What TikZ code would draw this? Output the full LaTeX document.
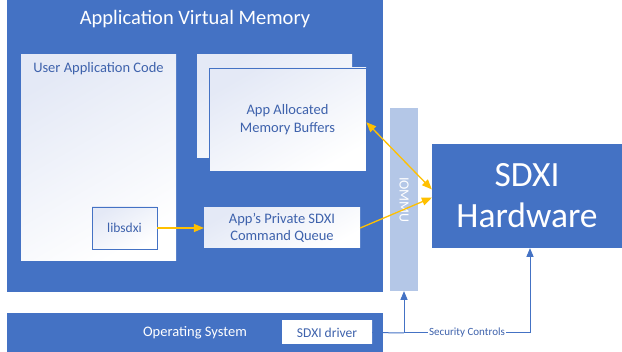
\documentclass[tikz,border=0pt]{standalone}
\usepackage{fontspec}
\setmainfont{Carlito}
\usetikzlibrary{arrows}
\definecolor{sd_blue}{RGB}{68, 114, 196}
\definecolor{sd_light}{RGB}{180, 199, 231}
\definecolor{sd_orange}{RGB}{255, 192, 0}
\definecolor{sd_tint}{RGB}{228, 233, 246}
\definecolor{sd_text}{RGB}{62, 98, 172}
\tikzstyle{bb}=[rectangle,fill=sd_blue,draw=none,inner sep=0pt,text=white]
\tikzstyle{wb}=[rectangle,top color=sd_tint,bottom color=white,shading angle=30,
  draw=none,inner sep=0pt,text=sd_text,align=center,
  font=\fontsize{14.5}{17.5}\selectfont]
\tikzstyle{ob}=[wb,draw=sd_blue,line width=0.8pt]
\tikzstyle{io}=[rectangle,fill=sd_light,draw=none,inner sep=0pt,text=white]
\tikzstyle{ya}=[draw=sd_orange,line width=1.3pt,-triangle 45]
\tikzstyle{ba}=[draw=sd_blue,line width=1pt]
\tikzstyle{none}=[]

\begin{document}
\begin{tikzpicture}[x=1pt,y=-1pt]
            \useasboundingbox (0, 0) rectangle (622, 352);
            \node [style=bb, minimum width=376, minimum height=292] (0) at (195, 146) {};
            \node [style=none, text=white, font=\fontsize{20.5}{24}\selectfont] (1) at (195, 19) {Application Virtual Memory};
            \node [style=wb, minimum width=155, minimum height=206,
              label={[text=sd_text, font=\fontsize{14.5}{17}\selectfont, anchor=north, yshift=-4pt]north:User Application Code}] (2) at (98.5, 158) {};
            \node [style=wb, minimum width=155, minimum height=103] (3) at (274.5, 106.5) {};
            \node [style=ob, minimum width=157, minimum height=103] (4) at (287.5, 119.5) {App Allocated\\Memory Buffers};
            \node [style=ob, fill=white, minimum width=65, minimum height=42,
              font=\fontsize{13.5}{16}\selectfont] (5) at (124.5, 228) {libsdxi};
            \node [style=wb, minimum width=156, minimum height=40] (6) at (282, 228) {App’s Private SDXI\\Command Queue};
            \node [style=io, minimum width=28, minimum height=183] (7) at (404, 199.5) {};
            \node [style=none, text=white, rotate=-90, font=\fontsize{14}{16}\selectfont] (8) at (404, 200) {IOMMU};
            \node [style=bb, minimum width=190, minimum height=104, align=center,
              font=\fontsize{35.5}{41}\selectfont] (9) at (527, 196) {SDXI\\Hardware};
            \node [style=bb, minimum width=376, minimum height=39,
              font=\fontsize{14.5}{17}\selectfont] (10) at (195, 332.5) {Operating System};
            \node [style=wb, top color=white, minimum width=90, minimum height=23,
              font=\fontsize{13.5}{16}\selectfont] (11) at (327, 332.5) {SDXI driver};
            \coordinate (12) at (404, 333);
            \coordinate (13) at (530, 333);
            \draw [style=ya] (5) to (6);
            \draw [style=ya] (6.east) to (9.181);
            \draw [style=ya, triangle 45-triangle 45] (4.-2) to (9.176);
            \draw [style=ba] (11.east) to (12);
            \draw [style=ba, -triangle 45] (12) to (7.south);
            \draw [style=ba, -triangle 45] (12) to node [fill=white, inner sep=1pt, text=sd_text,
              font=\fontsize{11}{13}\selectfont] {Security Controls} (13) to (9.south -| 13);
    \end{tikzpicture}
\end{document}
